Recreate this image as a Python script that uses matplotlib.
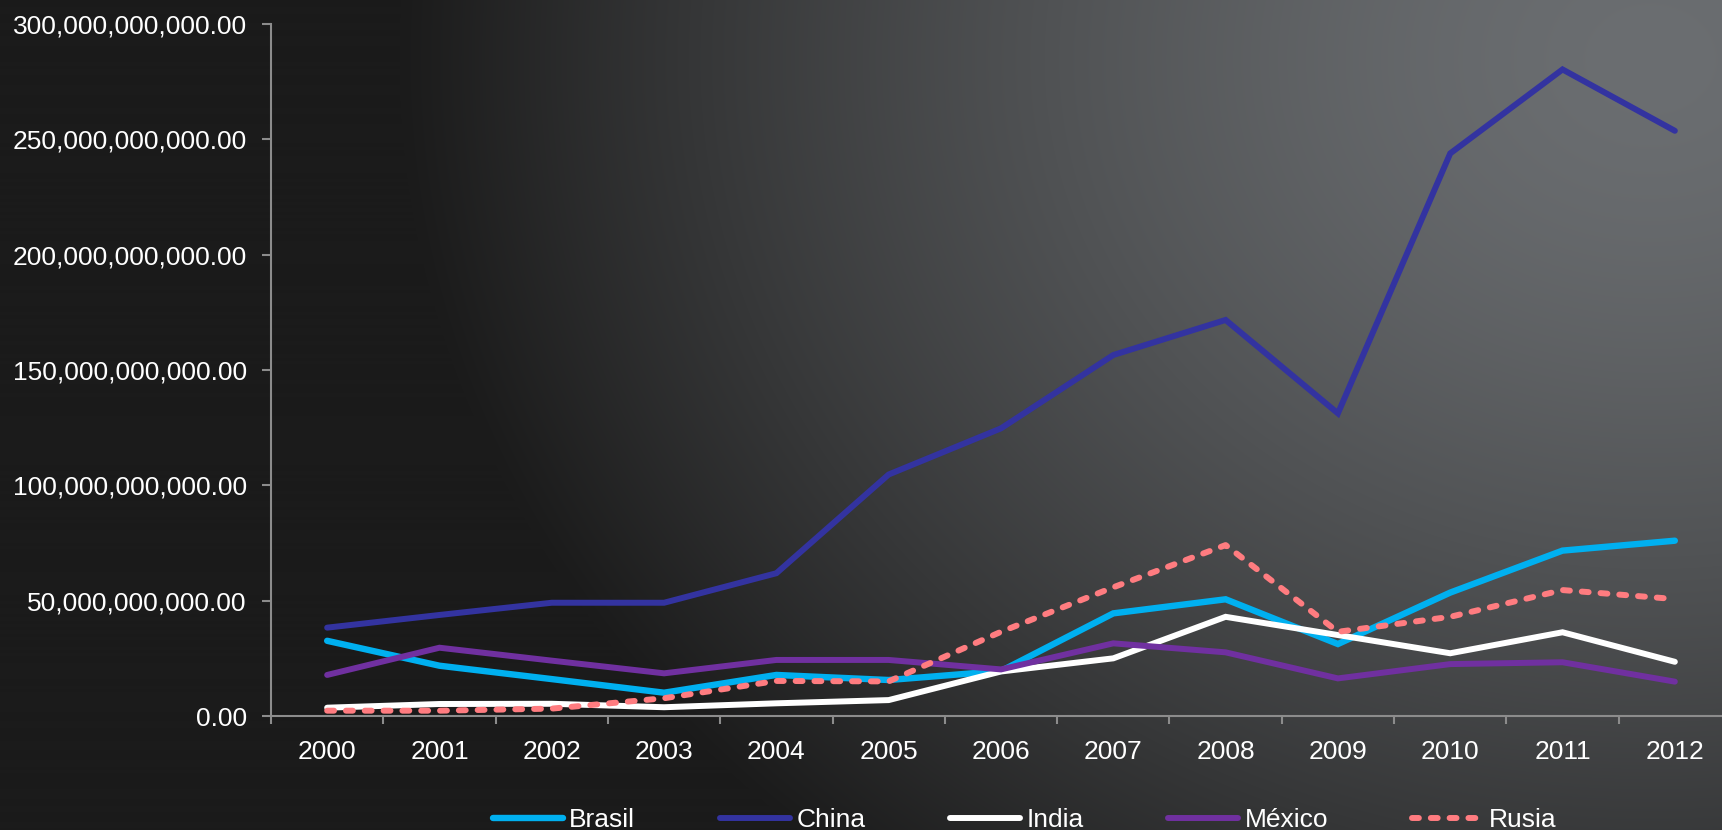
import matplotlib
matplotlib.use("Agg")
import matplotlib.pyplot as plt
import numpy as np

plt.rcParams['font.family'] = ['Liberation Sans', 'DejaVu Sans']

years = ["2000", "2001", "2002", "2003", "2004", "2005", "2006",
         "2007", "2008", "2009", "2010", "2011", "2012"]

# values in billions
brasil = [32.6, 21.8, 16.0, 10.1, 17.8, 15.6, 19.5, 44.5, 50.6, 31.2, 53.5, 71.7, 76.0]
china = [38.3, 43.8, 49.1, 49.1, 61.9, 104.7, 124.7, 156.5, 171.7, 131.2, 243.9, 280.3, 253.7]
india = [3.6, 5.2, 5.3, 3.8, 5.5, 6.9, 19.3, 25.0, 43.0, 35.1, 27.2, 36.3, 23.5]
mexico = [17.8, 29.6, 24.0, 18.5, 24.3, 24.3, 20.2, 31.5, 27.6, 16.3, 22.5, 23.3, 14.9]
rusia = [2.3, 2.3, 3.2, 7.7, 15.2, 15.0, 36.5, 55.8, 74.1, 36.5, 43.0, 54.6, 50.7]

names = ["Brasil", "China", "India", "México", "Rusia"]
colors = ["#00b0f0", "#3333a0", "#ffffff", "#7030a0", "#ff7c80"]

W, H = 1722, 830
fig = plt.figure(figsize=(W / 100, H / 100), dpi=100)

### background: radial gradient, light at top right
yy, xx = np.mgrid[0:H, 0:W]
d = np.sqrt(((xx - 1650.0) / 1250.0) ** 2 + ((yy - 60.0) / 1050.0) ** 2)
t = np.clip(d, 0, 1) ** 1.5
light = np.array([107, 110, 113]) / 255.0
dark = np.array([27, 27, 27]) / 255.0
img = light[None, None, :] * (1 - t[..., None]) + dark[None, None, :] * t[..., None]
bg = fig.add_axes([0, 0, 1, 1], zorder=0)
bg.imshow(img, aspect="auto", extent=(0, 1, 0, 1), origin="upper")
bg.set_axis_off()

ax = fig.add_axes([271 / W, 1 - 716 / H, 1460 / W, 692 / H], zorder=1)
ax.set_facecolor("none")

x = np.arange(len(years))
series = [brasil, china, india, mexico, rusia]
handles = []
for i in range(len(names)):
    vals = np.array(series[i]) * 1e9
    if names[i] == "Rusia":
        ln, = ax.plot(x, vals, color=colors[i], lw=4.3, dashes=(1.15, 2.0),
                      dash_capstyle="round", dash_joinstyle="round", clip_on=False)
    else:
        lw = 4.6 if names[i] == "Brasil" else 4.3
        ln, = ax.plot(x, vals, color=colors[i], lw=lw, solid_capstyle="round",
                      solid_joinstyle="miter", clip_on=False)
    handles.append(ln)

ax.set_xlim(-0.5, len(years) - 0.5)
ax.set_ylim(0, 300e9)
ax.set_yticks(np.arange(0, 301e9, 50e9))
ax.set_yticklabels(["{:,.2f}".format(v) for v in np.arange(0, 301e9, 50e9)])

ax.set_xticks(np.arange(-0.5, len(years), 1.0))
ax.set_xticklabels([])
ax.set_xticks(x, minor=True)
ax.set_xticklabels(years, minor=True)

for s in ["top", "right"]:
    ax.spines[s].set_visible(False)
for s in ["left", "bottom"]:
    ax.spines[s].set_color("#8c8c8c")
    ax.spines[s].set_linewidth(1.5)

ax.tick_params(axis="y", which="major", colors="#8c8c8c", labelcolor="white",
               labelsize=19, length=6.5, width=1.5, pad=11)
ax.tick_params(axis="x", which="major", colors="#8c8c8c", length=6, width=1.5)
ax.tick_params(axis="x", which="minor", length=0, labelcolor="white",
               labelsize=19, pad=17)

fig.legend(handles, names, loc="center", bbox_to_anchor=(0.595, 0.012), ncol=5,
           frameon=False, fontsize=19, labelcolor="white", handlelength=2.65,
           handletextpad=0.25, columnspacing=3.2)

plt.savefig("out.png", dpi=100)
plt.close()
